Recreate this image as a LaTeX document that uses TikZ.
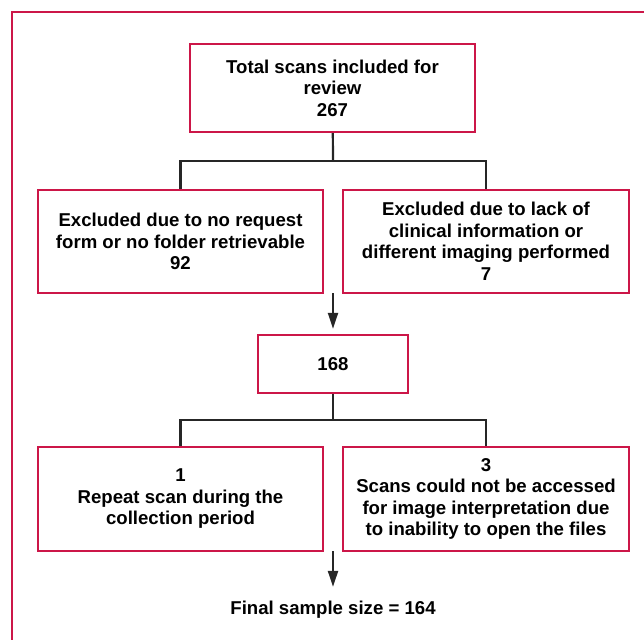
\documentclass[tikz,border=0pt]{standalone}
\usepackage{fontspec}
\setmainfont{Liberation Sans}
\usetikzlibrary{arrows.meta}
\definecolor{frame}{RGB}{204,22,72}
\begin{document}
\begin{tikzpicture}[x=1pt,y=-1pt,
  box/.style={draw=frame, line width=2.4pt, align=center, inner sep=0pt,
    font=\fontsize{18.6}{21.5}\selectfont\bfseries},
  link/.style={line width=2.2pt, black!85},
  arr/.style={link, -{Triangle[length=16pt,width=10pt]}}]
\useasboundingbox (0,0) rectangle (644,639);
\clip (0,0) rectangle (644,639);
\draw [frame, line width=2.2pt] (12,12) rectangle (660,660);
\node [box, minimum width=285pt, minimum height=88pt] (total) at (332.5,88)
  {Total scans included for\\review\\267};
\node [box, minimum width=285pt, minimum height=103pt] (nofolder) at (180.5,241.5)
  {Excluded due to no request\\form or no folder retrievable\\92};
\node [box, minimum width=286pt, minimum height=103pt] (noinfo) at (486,241.5)
  {Excluded due to lack of\\clinical information or\\different imaging performed\\7};
\node [box, minimum width=150pt, minimum height=58pt] (remain) at (333,364) {168};
\node [box, minimum width=285pt, minimum height=104pt] (repeat) at (180.5,499)
  {1\\Repeat scan during the\\collection period};
\node [box, minimum width=286pt, minimum height=104pt] (noopen) at (486,499)
  {3\\Scans could not be accessed\\for image interpretation due\\to inability to open the files};
\node [font=\fontsize{18.6}{21.5}\selectfont\bfseries, inner sep=0pt, anchor=base]
  (final) at (333,614.5) {Final sample size = 164};
\coordinate (split1) at (333,161);
\coordinate (split2) at (333,420);
\coordinate (out1) at (333,293);
\coordinate (out2) at (333,551);
\draw [link] (total) -- (split1);
\draw [link] (nofolder.north) |- (split1) -| (noinfo.north);
\draw [arr] (out1) -- ([yshift=5pt]remain.north);
\draw [link] (remain) -- (split2);
\draw [link] (repeat.north) |- (split2) -| (noopen.north);
\draw [arr] (out2) -- ([yshift=14pt]final.north);
\end{tikzpicture}
\end{document}
